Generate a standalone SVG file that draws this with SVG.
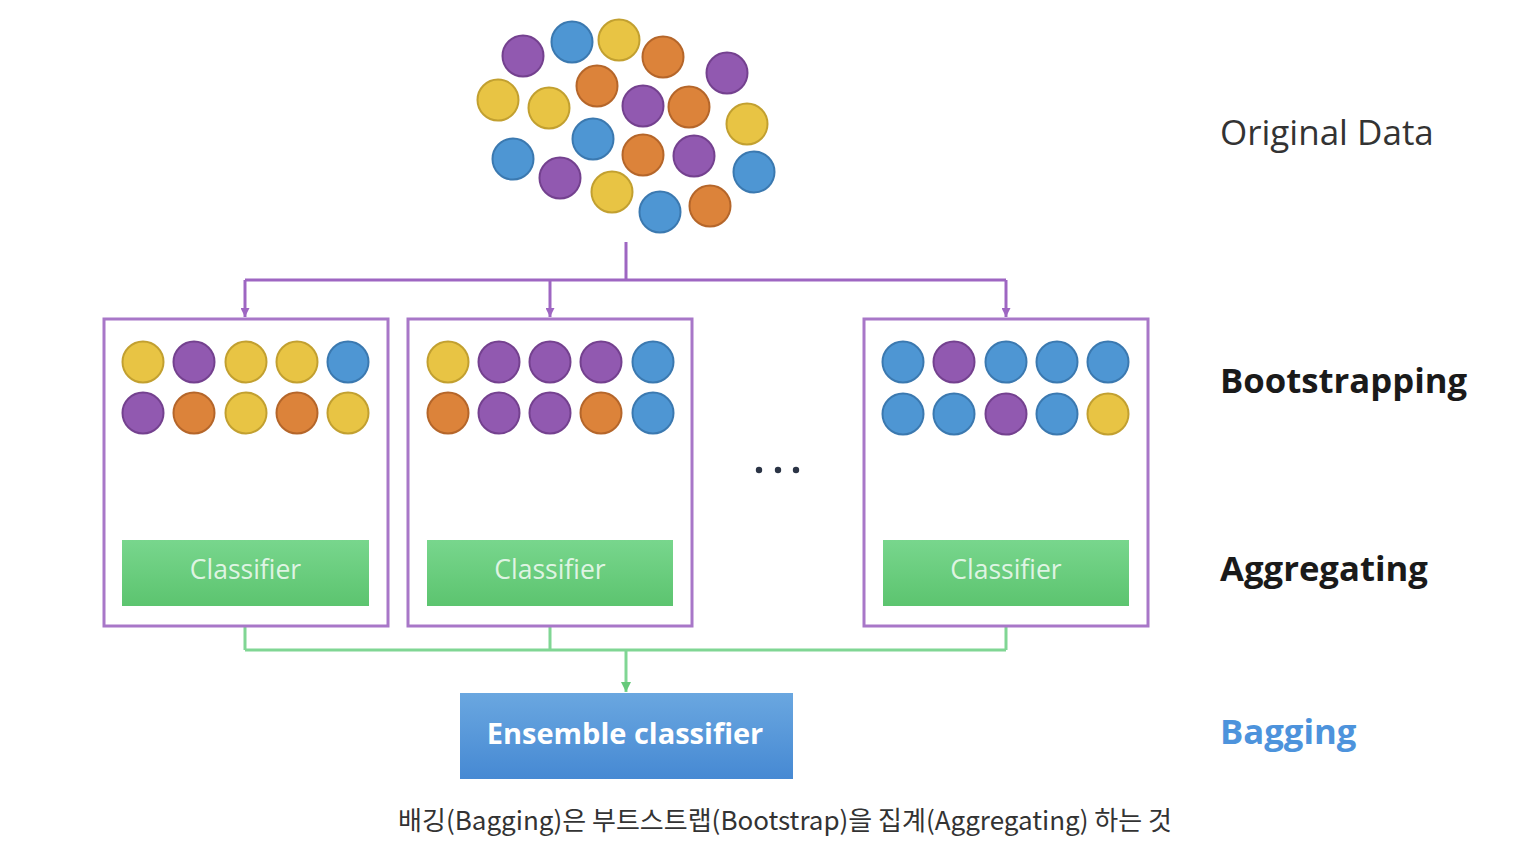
<svg xmlns="http://www.w3.org/2000/svg" width="1538" height="846" viewBox="0 0 1538 846">
<defs>
<linearGradient id="gGreen" x1="0" y1="0" x2="0" y2="1">
<stop offset="0" stop-color="#78D68D"/>
<stop offset="1" stop-color="#5CC46F"/>
</linearGradient>
<linearGradient id="gBlue" x1="0" y1="0" x2="0" y2="1">
<stop offset="0" stop-color="#6AA7E0"/>
<stop offset="1" stop-color="#4689D3"/>
</linearGradient>
<marker id="aPurple" viewBox="0 0 10 10" refX="10" refY="5" markerWidth="9" markerHeight="9" markerUnits="userSpaceOnUse" orient="auto">
<path d="M0,0 L10,5 L0,10 Z" fill="#9E66C2"/>
</marker>
<marker id="aGreen" viewBox="0 0 10 10" refX="10" refY="5" markerWidth="10" markerHeight="10" markerUnits="userSpaceOnUse" orient="auto">
<path d="M0,0 L10,5 L0,10 Z" fill="#66C97A"/>
</marker>
</defs>
<style>
.p{fill:#9159B0;stroke:#74418F;stroke-width:2}
.b{fill:#4E96D3;stroke:#3B79B0;stroke-width:2}
.y{fill:#E8C444;stroke:#C2A030;stroke-width:2}
.o{fill:#DC833A;stroke:#B5662A;stroke-width:2}
.box{fill:#fff;stroke:#A877C8;stroke-width:3}
.cls{fill:url(#gGreen)}
.clsT{font-family:"Open Sans","Noto Sans",sans-serif;font-size:26.5px;fill:#fff;fill-opacity:0.8;text-anchor:middle}
.lab{font-family:"Open Sans","Noto Sans",sans-serif;font-size:35px}
.bl{font-size:34.7px;font-weight:bold;fill:#1a1a1a}
.pl{fill:none;stroke:#9E66C2;stroke-width:3}
.gl{fill:none;stroke:#80D694;stroke-width:3}
</style>
<rect width="1538" height="846" fill="#fff"/>

<g id="original-data">
<circle class="p" cx="523" cy="56" r="20.5"/>
<circle class="b" cx="572" cy="42" r="20.5"/>
<circle class="y" cx="619" cy="40" r="20.5"/>
<circle class="o" cx="663" cy="57" r="20.5"/>
<circle class="p" cx="727" cy="73" r="20.5"/>
<circle class="y" cx="498" cy="100" r="20.5"/>
<circle class="y" cx="549" cy="108" r="20.5"/>
<circle class="o" cx="597" cy="86" r="20.5"/>
<circle class="p" cx="643" cy="106" r="20.5"/>
<circle class="o" cx="689" cy="107" r="20.5"/>
<circle class="y" cx="747" cy="124" r="20.5"/>
<circle class="b" cx="593" cy="139" r="20.5"/>
<circle class="o" cx="643" cy="155" r="20.5"/>
<circle class="p" cx="694" cy="156" r="20.5"/>
<circle class="b" cx="513" cy="159" r="20.5"/>
<circle class="p" cx="560" cy="178" r="20.5"/>
<circle class="y" cx="612" cy="192" r="20.5"/>
<circle class="b" cx="660" cy="212" r="20.5"/>
<circle class="o" cx="710" cy="206" r="20.5"/>
<circle class="b" cx="754" cy="172" r="20.5"/>
</g>

<g id="connectors">
<path class="pl" d="M626,242 V280 M245,280 H1006"/>
<path class="pl" d="M245,280 V317" marker-end="url(#aPurple)"/>
<path class="pl" d="M550,280 V317" marker-end="url(#aPurple)"/>
<path class="pl" d="M1006,280 V317" marker-end="url(#aPurple)"/>
<path class="gl" d="M245,606 V650 M550,606 V650 M1006,606 V650 M245,650 H1006"/>
<path class="gl" d="M626,650 V692" marker-end="url(#aGreen)"/>
</g>

<g id="sample-1">
<rect class="box" x="104" y="319" width="284" height="307"/>
<circle class="y" cx="143" cy="362" r="20.5"/>
<circle class="p" cx="194" cy="362" r="20.5"/>
<circle class="y" cx="246" cy="362" r="20.5"/>
<circle class="y" cx="297" cy="362" r="20.5"/>
<circle class="b" cx="348" cy="362" r="20.5"/>
<circle class="p" cx="143" cy="413" r="20.5"/>
<circle class="o" cx="194" cy="413" r="20.5"/>
<circle class="y" cx="246" cy="413" r="20.5"/>
<circle class="o" cx="297" cy="413" r="20.5"/>
<circle class="y" cx="348" cy="413" r="20.5"/>
</g>
<g id="classifier-1">
<rect class="cls" x="122" y="540" width="247" height="66"/>
<text class="clsT" x="245.5" y="579">Classifier</text>
</g>

<g id="sample-2">
<rect class="box" x="408" y="319" width="284" height="307"/>
<circle class="y" cx="448" cy="362" r="20.5"/>
<circle class="p" cx="499" cy="362" r="20.5"/>
<circle class="p" cx="550" cy="362" r="20.5"/>
<circle class="p" cx="601" cy="362" r="20.5"/>
<circle class="b" cx="653" cy="362" r="20.5"/>
<circle class="o" cx="448" cy="413" r="20.5"/>
<circle class="p" cx="499" cy="413" r="20.5"/>
<circle class="p" cx="550" cy="413" r="20.5"/>
<circle class="o" cx="601" cy="413" r="20.5"/>
<circle class="b" cx="653" cy="413" r="20.5"/>
</g>
<g id="classifier-2">
<rect class="cls" x="427" y="540" width="246" height="66"/>
<text class="clsT" x="550" y="579">Classifier</text>
</g>

<g id="ellipsis">
<circle cx="759" cy="470" r="3.2" fill="#2B3445"/>
<circle cx="778" cy="470" r="3.2" fill="#2B3445"/>
<circle cx="796" cy="470" r="3.2" fill="#2B3445"/>
</g>

<g id="sample-n">
<rect class="box" x="864" y="319" width="284" height="307"/>
<circle class="b" cx="903" cy="362" r="20.5"/>
<circle class="p" cx="954" cy="362" r="20.5"/>
<circle class="b" cx="1006" cy="362" r="20.5"/>
<circle class="b" cx="1057" cy="362" r="20.5"/>
<circle class="b" cx="1108" cy="362" r="20.5"/>
<circle class="b" cx="903" cy="414" r="20.5"/>
<circle class="b" cx="954" cy="414" r="20.5"/>
<circle class="p" cx="1006" cy="414" r="20.5"/>
<circle class="b" cx="1057" cy="414" r="20.5"/>
<circle class="y" cx="1108" cy="414" r="20.5"/>
</g>
<g id="classifier-n">
<rect class="cls" x="883" y="540" width="246" height="66"/>
<text class="clsT" x="1006" y="579">Classifier</text>
</g>

<g id="ensemble">
<rect x="460" y="693" width="333" height="86" fill="url(#gBlue)"/>
<text x="625" y="744" font-family="Open Sans, Noto Sans, sans-serif" font-size="29" font-weight="bold" fill="#fff" text-anchor="middle">Ensemble classifier</text>
</g>

<g id="labels">
<text class="lab" x="1220" y="145" fill="#333">Original Data</text>
<text class="lab bl" x="1220" y="393">Bootstrapping</text>
<text class="lab bl" x="1220" y="581">Aggregating</text>
<text class="lab bl" x="1220" y="744" style="fill:#4D93DC">Bagging</text>
</g>

<g id="caption">
<text x="785" y="830" font-family="Noto Sans CJK KR, Noto Sans, sans-serif" font-size="26" fill="#333" text-anchor="middle">배깅(Bagging)은 부트스트랩(Bootstrap)을 집계(Aggregating) 하는 것</text>
</g>
</svg>
